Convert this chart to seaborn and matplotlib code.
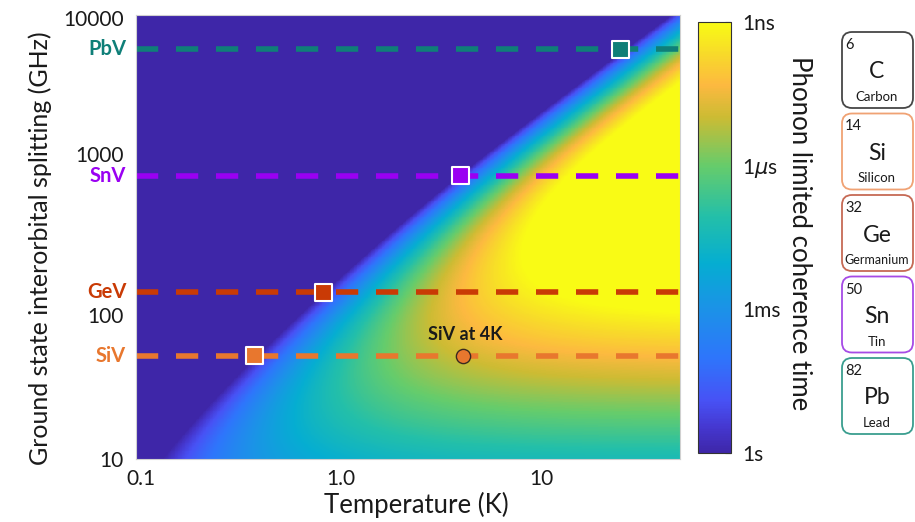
import numpy as np
import pandas as pd
import matplotlib
matplotlib.use('Agg')
import matplotlib.pyplot as plt
import matplotlib.transforms as mtransforms
from matplotlib.colors import LinearSegmentedColormap
from matplotlib.patches import FancyBboxPatch
from matplotlib.ticker import FixedLocator
import seaborn as sns

# colour centres: ground state splitting and crossover temperature
centers = ['SiV', 'GeV', 'SnV', 'PbV']
splitting_ghz = [50, 134, 820, 5870]
crossover_k = [0.37, 0.82, 3.95, 25.0]
center_colors = ['#e8772e', '#c93a05', '#9a00f2', '#0f7f78']

siv_4k_T = [4.1]
siv_4k_D = [50]

# element tiles on the right
elem_numbers = [6, 14, 32, 50, 82]
elem_symbols = ['C', 'Si', 'Ge', 'Sn', 'Pb']
elem_names = ['Carbon', 'Silicon', 'Germanium', 'Tin', 'Lead']
elem_colors = ['#474747', '#f0a274', '#c66a55', '#a64be6', '#3a9e8f']

xticks = [0.1, 1, 10]
xticklabels = ['0.1', '1.0', '10']
yticks = [10, 100, 1000, 10000]
yticklabels = ['10', '100', '1000', '10000']
ytick_shift_pt = [0, -3, 6.5, -2]   # label nudges as in the original
cbar_ticks = [0, 3, 6, 9]
cbar_labels = ['1s', '1ms', '1$\\mu$s', '1ns']

# phonon-limited coherence model (decades below 1 s)
H_OVER_K = 0.048   # K per GHz
slope, offset, cap, soft, act = 4.5, -0.15, 13.3, 1.0, 1.25

T = np.logspace(np.log10(0.095), np.log10(49.5), 700)
D = np.logspace(1, 4, 500)
TT, DD = np.meshgrid(T, D)
x = H_OVER_K * DD / TT
lin = slope * np.log10(DD) - offset
H = -soft * np.logaddexp(-lin / soft, -cap / soft)
decades = np.clip(H - act * x, 0, 9)

# parula-like colormap
parula = LinearSegmentedColormap.from_list('parula', [
    (0.00, (0.243, 0.150, 0.660)),
    (0.06, (0.270, 0.220, 0.820)),
    (0.12, (0.280, 0.320, 0.960)),
    (0.22, (0.180, 0.460, 0.985)),
    (0.33, (0.110, 0.570, 0.910)),
    (0.44, (0.020, 0.680, 0.820)),
    (0.55, (0.140, 0.750, 0.660)),
    (0.667, (0.400, 0.800, 0.420)),
    (0.78, (0.800, 0.735, 0.200)),
    (0.855, (0.990, 0.725, 0.250)),
    (0.93, (0.970, 0.860, 0.160)),
    (1.00, (0.976, 0.984, 0.081)),
])

sns.set_theme(style='white')
plt.rcParams['font.family'] = ['Lato', 'DejaVu Sans']
txt = '#1a1a1a'

fig = plt.figure(figsize=(9.15, 5.22), dpi=100)
ax = fig.add_axes([136 / 915, 1 - 459 / 522, 544 / 915, 444 / 522])
ax.set_xscale('log')
ax.set_yscale('log')
mesh = ax.pcolormesh(T, D, decades, cmap=parula, vmin=0, vmax=9,
                     shading='auto', rasterized=True, zorder=0)
ax.set_xlim(0.095, 49.5)
ax.set_ylim(10, 10000)
ax.set_xticks(xticks, labels=xticklabels)
ax.set_yticks(yticks, labels=yticklabels)
ax.minorticks_off()
ax.tick_params(length=0, labelsize=15, labelcolor=txt)
ax.tick_params(axis='y', pad=9)
ax.tick_params(axis='x', pad=7)
for lab, dy in zip(ax.get_yticklabels(), ytick_shift_pt):
    lab.set_transform(lab.get_transform() +
                      mtransforms.ScaledTranslation(0, dy / 72, fig.dpi_scale_trans))
for sp in ax.spines.values():
    sp.set_color('#d0d0d0')
    sp.set_linewidth(0.8)

# dashed splitting lines
for d, c in zip(splitting_ghz, center_colors):
    ax.axhline(d, color=c, lw=4, ls=(0, (4, 3.2)), zorder=2)

df = pd.DataFrame({'center': centers, 'T': crossover_k, 'D': splitting_ghz})
sns.scatterplot(data=df, x='T', y='D', hue='center',
                palette=dict(zip(centers, center_colors)), marker='s', s=150,
                edgecolor='white', linewidth=1.5, legend=False, ax=ax, zorder=4)
sns.scatterplot(x=siv_4k_T, y=siv_4k_D, color='#e8772e', s=105,
                edgecolor='#3b2a20', linewidth=1.0, ax=ax, zorder=5)
ax.annotate('SiV at 4K', (siv_4k_T[0], siv_4k_D[0]), xytext=(1, 15),
            textcoords='offset points', ha='center', va='center',
            fontsize=13, fontweight='bold', color=txt)
ax.set_xlabel('')
ax.set_ylabel('')

trans = mtransforms.blended_transform_factory(ax.transAxes, ax.transData)
for name, d, c in zip(centers, splitting_ghz, center_colors):
    ax.text(-0.018, d, name, transform=trans, ha='right', va='center',
            fontsize=14.5, fontweight='bold', color=c)

fig.text(40 / 915, 1 - 248 / 522, 'Ground state interorbital splitting (GHz)',
         rotation=90, ha='center', va='center', fontsize=18, color=txt)
fig.text(416 / 915, 1 - 505 / 522, 'Temperature (K)',
         ha='center', va='center', fontsize=18.5, color=txt)

# colorbar
cax = fig.add_axes([698 / 915, 1 - 453 / 522, 33 / 915, 431 / 522])
cb = fig.colorbar(mesh, cax=cax)
cb.set_ticks(cbar_ticks, labels=cbar_labels)
cax.yaxis.set_minor_locator(FixedLocator(range(10)))
cax.tick_params(which='both', direction='in', length=4, width=0.8,
                color='#333333', right=True, left=False, pad=8,
                labelsize=15, labelcolor=txt)
cb.outline.set_edgecolor('#333333')
cb.outline.set_linewidth(0.8)
fig.text(800 / 915, 1 - 233 / 522, 'Phonon limited coherence time',
         rotation=270, ha='center', va='center', fontsize=18.5, color=txt)

# element tiles
ov = fig.add_axes([0, 0, 1, 1])
ov.set_xlim(0, 915)
ov.set_ylim(522, 0)
ov.axis('off')
ov.patch.set_alpha(0)
for i, (num, sym, nm, c) in enumerate(zip(elem_numbers, elem_symbols, elem_names, elem_colors)):
    top = 32 + i * 81.5
    ov.add_patch(FancyBboxPatch((842, top), 71, 76,
                                boxstyle='round,pad=0,rounding_size=10',
                                fc='white', ec=c, lw=1.3))
    ov.text(845, top + 13, str(num), ha='left', va='center', fontsize=10.5, color=txt)
    ov.text(877, top + 40, sym, ha='center', va='center', fontsize=16.5, color=txt)
    ov.text(877, top + 65, nm, ha='center', va='center',
            fontsize=9 if nm == 'Germanium' else 9.5, color=txt)

fig.savefig('out.png', dpi=100)
